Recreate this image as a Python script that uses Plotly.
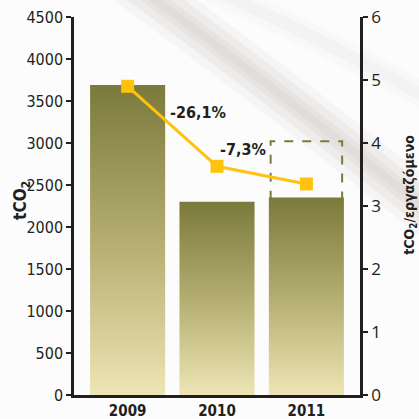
import plotly.graph_objects as go

# ---- data ----
years = ["2009", "2010", "2011"]
emissions = [3690, 2300, 2350]          # tCO2 (left axis)
per_employee = [4.9, 3.63, 3.35]        # tCO2 / employee (right axis)
changes = ["-26,1%", "-7,3%"]
target_2011 = 3020                      # dashed outline above the 2011 bar
left_ticks = list(range(0, 4501, 500))
right_ticks = list(range(0, 7))

# ---- style ----
BAR_W = 0.84
DARK = "#7b7a3b"
LIGHT = "#ede5b4"
GOLD = "#ffc20e"
INK = "#231f20"
NARROW = "DejaVu Sans Condensed, Liberation Sans Narrow, sans-serif"
REG = "Open Sans, Noto Sans, DejaVu Sans, sans-serif"

fig = go.Figure()

# decorative background swoosh (soft, layered)
SWOOSH_MAIN = "M 0.15,1.12 Q 0.66,0.84 1.315,0.44"
SWOOSH_TOP = "M 0.40,1.10 Q 0.8,0.97 1.3,0.76"
for w, a in [(50, 0.06), (34, 0.08), (18, 0.09), (8, 0.06)]:
    fig.add_shape(type="path", xref="paper", yref="paper", layer="below",
                  path=SWOOSH_MAIN,
                  line=dict(color=f"rgba(150,140,130,{a})", width=w))
for w, a in [(26, 0.035), (12, 0.04)]:
    fig.add_shape(type="path", xref="paper", yref="paper", layer="below",
                  path=SWOOSH_TOP,
                  line=dict(color=f"rgba(150,140,130,{a})", width=w))

# gradient bars (one filled polygon per bar, built from the values)
for i, v in enumerate(emissions):
    x0, x1 = i - BAR_W / 2, i + BAR_W / 2
    fig.add_trace(go.Scatter(
        x=[x0, x1, x1, x0, x0], y=[0, 0, v, v, 0],
        mode="lines", fill="toself", line=dict(width=0, color=DARK),
        fillgradient=dict(type="vertical", colorscale=[[0, LIGHT], [0.5, "#b3ad70"], [1, DARK]]),
        hoverinfo="skip", showlegend=False, yaxis="y"))

# dashed outline above 2011
i = len(years) - 1
fig.add_shape(type="rect", xref="x", yref="y",
              x0=i - BAR_W / 2 + 0.02, x1=i + BAR_W / 2 - 0.02,
              y0=emissions[i] - 40, y1=target_2011,
              line=dict(color="#7b7a3b", width=2, dash="dash"), layer="below")

# per-employee line
fig.add_trace(go.Scatter(
    x=list(range(len(years))), y=per_employee, yaxis="y2",
    mode="lines+markers",
    line=dict(color=GOLD, width=3),
    marker=dict(symbol="square", size=13, color=GOLD),
    showlegend=False, hoverinfo="skip"))

# change labels
label_pos = [(0.785, 4.49), (1.29, 3.89)]
for txt, (lx, ly) in zip(changes, label_pos):
    fig.add_annotation(x=lx, y=ly, xref="x", yref="y2", text=f"<b>{txt}</b>",
                       showarrow=False, font=dict(family=NARROW, size=16, color=INK))

# axis titles
fig.add_annotation(x=-0.182, y=0.516, xref="paper", yref="paper", textangle=-90,
                   xanchor="center", yanchor="middle",
                   text="<b>tCO<sub>2</sub></b>", showarrow=False,
                   font=dict(family=NARROW, size=17, color=INK))
fig.add_annotation(x=1.175, y=0.53, xref="paper", yref="paper", textangle=-90,
                   xanchor="center", yanchor="middle",
                   text="<b>tCO<sub>2</sub>/εργαζόμενο</b>", showarrow=False,
                   font=dict(family=NARROW, size=14, color=INK))

fig.update_layout(
    width=419, height=419,
    margin=dict(l=74, r=59, t=17, b=24, autoexpand=False),
    paper_bgcolor="#fcfcfc", plot_bgcolor="rgba(0,0,0,0)",
    xaxis=dict(range=[-0.6, len(years) - 0.4], tickvals=list(range(len(years))),
               ticktext=[f"<b>{y}</b>" for y in years], showgrid=False, zeroline=False,
               showline=True, linewidth=2.5, linecolor=INK, ticks="",
               tickfont=dict(family=NARROW, size=15, color=INK), fixedrange=True),
    yaxis=dict(range=[0, 4500], tickvals=left_ticks, showgrid=False, zeroline=False,
               showline=True, linewidth=2.5, linecolor=INK, ticks="outside",
               ticklen=5, tickwidth=2, tickcolor=INK,
               tickfont=dict(family=NARROW, size=16, color=INK)),
    yaxis2=dict(range=[0, 6], tickvals=right_ticks, overlaying="y", side="right",
                showgrid=False, zeroline=False, showline=True, linewidth=2.5,
                linecolor=INK, ticks="outside", ticklen=5, tickwidth=2, tickcolor=INK,
                tickfont=dict(family=REG, size=17, color=INK)),
)

fig.write_html("out.html", config={"displayModeBar": False},
               post_script="document.body.style.margin='0';document.body.style.padding='0';")
